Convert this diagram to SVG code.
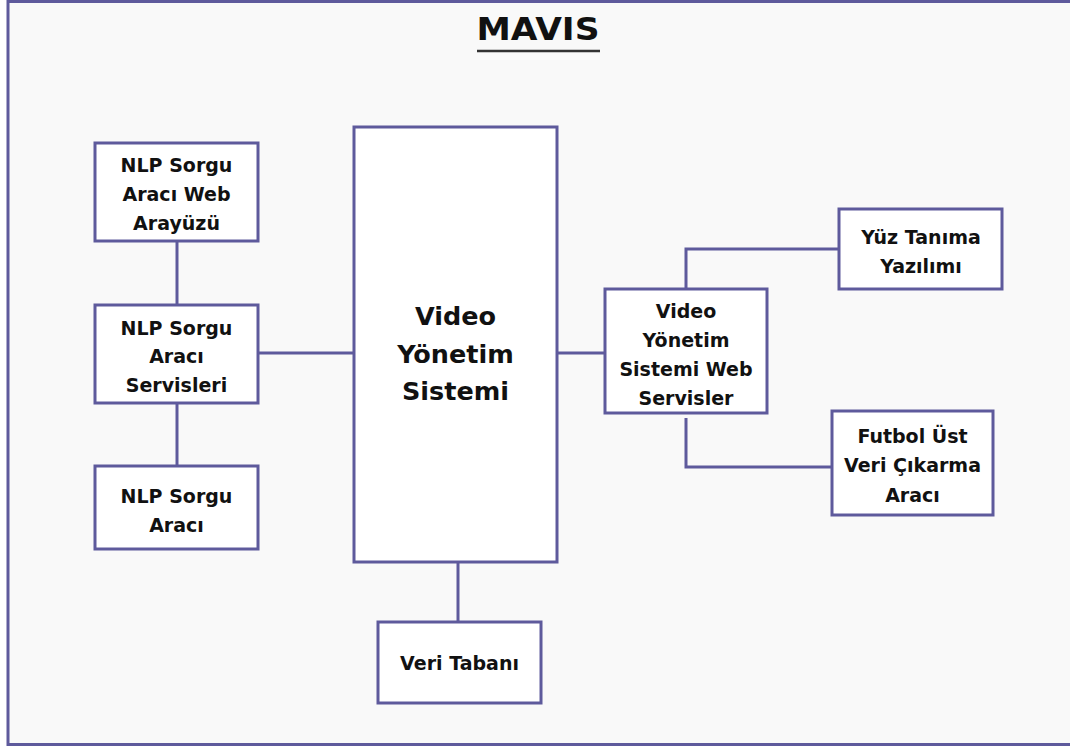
<svg xmlns="http://www.w3.org/2000/svg" width="1070" height="749" viewBox="0 0 1070 749">
  <style>
    .box { fill: #ffffff; stroke: #5e5a9c; stroke-width: 3; }
    .wire { fill: none; stroke: #5e5a9c; stroke-width: 3; }
    .lbl { font-family: "DejaVu Sans", "Liberation Sans", sans-serif; font-weight: bold; font-size: 19px; fill: #111111; text-anchor: middle; }
    .big { font-size: 25.5px; }
    .title { font-family: "DejaVu Sans", "Liberation Sans", sans-serif; font-weight: bold; font-size: 32px; fill: #111111; text-anchor: middle; }
  </style>

  <!-- page and frame -->
  <rect x="0" y="0" width="1070" height="749" fill="#ffffff"/>
  <rect x="8" y="1.5" width="1075" height="743" fill="#f9f9f9" stroke="#5e5a9c" stroke-width="3"/>

  <!-- title -->
  <g id="title">
    <text class="title" x="538" y="40" textLength="123" lengthAdjust="spacingAndGlyphs">MAVIS</text>
    <line x1="477" y1="51" x2="600" y2="51" stroke="#333333" stroke-width="2.5"/>
  </g>

  <!-- connectors -->
  <g id="connectors">
    <line class="wire" x1="177" y1="241" x2="177" y2="305"/>
    <line class="wire" x1="177" y1="403" x2="177" y2="466"/>
    <line class="wire" x1="258" y1="353" x2="354" y2="353"/>
    <line class="wire" x1="557" y1="353" x2="605" y2="353"/>
    <polyline class="wire" points="686,289 686,249 839,249"/>
    <polyline class="wire" points="686,418 686,467 832,467"/>
    <line class="wire" x1="458" y1="562" x2="458" y2="622"/>
  </g>

  <!-- nodes -->
  <g id="nlp-web">
    <rect class="box" x="95" y="143" width="163" height="98"/>
    <text class="lbl" x="176.5" y="172">NLP Sorgu</text>
    <text class="lbl" x="176.5" y="201">Aracı Web</text>
    <text class="lbl" x="176.5" y="230">Arayüzü</text>
  </g>

  <g id="nlp-services">
    <rect class="box" x="95" y="305" width="163" height="98"/>
    <text class="lbl" x="176.5" y="335">NLP Sorgu</text>
    <text class="lbl" x="176.5" y="363">Aracı</text>
    <text class="lbl" x="176.5" y="392">Servisleri</text>
  </g>

  <g id="nlp-tool">
    <rect class="box" x="95" y="466" width="163" height="83"/>
    <text class="lbl" x="176.5" y="503">NLP Sorgu</text>
    <text class="lbl" x="176.5" y="532">Aracı</text>
  </g>

  <g id="vms">
    <rect class="box" x="354" y="127" width="203" height="435"/>
    <text class="lbl big" x="455.5" y="325">Video</text>
    <text class="lbl big" x="455.5" y="363">Yönetim</text>
    <text class="lbl big" x="455.5" y="400">Sistemi</text>
  </g>

  <g id="vms-web">
    <rect class="box" x="605" y="289" width="162" height="124"/>
    <text class="lbl" x="686" y="318">Video</text>
    <text class="lbl" x="686" y="347">Yönetim</text>
    <text class="lbl" x="686" y="376">Sistemi Web</text>
    <text class="lbl" x="686" y="405">Servisler</text>
  </g>

  <g id="face">
    <rect class="box" x="839" y="209" width="163" height="80"/>
    <text class="lbl" x="921" y="244">Yüz Tanıma</text>
    <text class="lbl" x="921" y="273">Yazılımı</text>
  </g>

  <g id="football">
    <rect class="box" x="832" y="411" width="161" height="104"/>
    <text class="lbl" x="912.5" y="443">Futbol Üst</text>
    <text class="lbl" x="912.5" y="472">Veri Çıkarma</text>
    <text class="lbl" x="912.5" y="502">Aracı</text>
  </g>

  <g id="database">
    <rect class="box" x="378" y="622" width="163" height="81"/>
    <text class="lbl" x="459.5" y="670">Veri Tabanı</text>
  </g>
</svg>
